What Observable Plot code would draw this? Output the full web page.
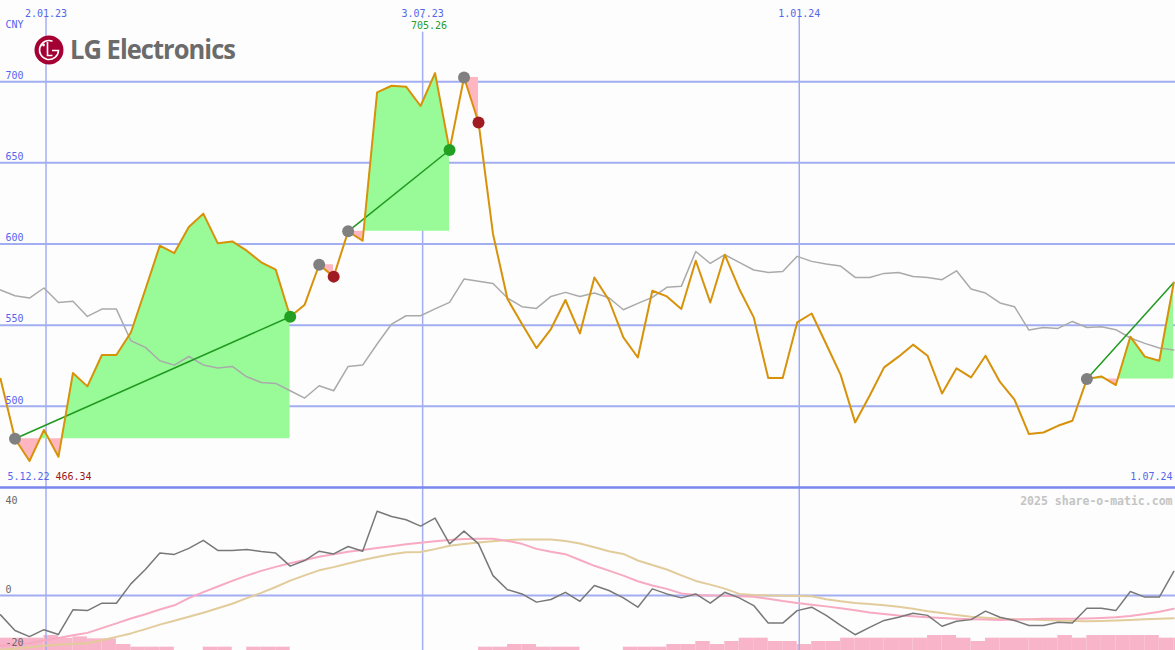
<!DOCTYPE html>
<html><head><meta charset="utf-8">
<script src="https://cdn.jsdelivr.net/npm/d3@7"></script>
<script src="https://cdn.jsdelivr.net/npm/@observablehq/plot@0.6"></script>
<style>
html,body{margin:0;padding:0;background:#fcfdfc;}
#wrap{position:relative;width:1175px;height:650px;overflow:hidden;background:#fcfdfc;}
#wrap svg{position:absolute;left:0;}
</style></head><body><div id="wrap"></div>
<script>
// ---- data (weekly, first week 11.12.2022) ----
const firstWeek = "2022-12-11";
const price = [517.0,480.0,466.34,485.4,468.9,520.5,512.3,531.6,531.6,545.5,572.0,599.0,594.4,610.5,618.7,600.4,601.6,595.9,588.7,584.2,
555.2,562.6,587.2,579.9,607.8,602.0,693.4,697.5,696.9,685.0,705.26,657.9,702.6,674.9,606.2,566.1,550.7,535.9,547.6,565.5,
544.9,579.4,565.5,542.5,530.1,571.2,567.7,560.0,589.7,564.0,593.4,572.3,554.8,517.4,517.4,551.7,557.2,538.4,519.4,490.1,
506.5,524.0,530.6,538.0,531.2,507.9,523.4,517.8,531.2,515.0,504.2,482.9,483.9,488.0,491.1,516.8,518.4,513.1,542.9,530.6,
528.1,576.3];
const bench = [571.7,568.1,566.7,572.9,564.0,564.7,555.4,559.9,559.9,540.4,536.3,528.1,525.4,530.7,525.5,523.6,524.6,518.2,514.7,514.1,
509.6,505.1,512.7,509.6,524.6,525.4,538.4,550.7,555.8,555.8,560.0,564.0,578.4,577.0,575.7,566.7,561.4,560.3,567.7,570.2,
567.7,569.8,566.9,559.5,563.4,567.1,573.3,573.9,595.4,588.0,593.4,588.7,584.0,582.5,583.1,592.4,589.3,587.7,586.4,579.4,
579.4,581.9,582.5,580.0,579.4,578.0,583.5,572.3,569.8,563.7,561.4,547.0,548.6,548.0,552.3,548.6,549.0,547.2,542.1,538.8,
535.9,534.7];
const momentum = [-7.3,-13.2,-15.5,-12.9,-14.7,-5.4,-5.7,-2.9,-2.9,4.4,9.8,16.0,15.5,17.8,20.8,17.0,17.0,17.4,16.6,16.0,
11.1,13.2,16.7,15.7,18.5,16.7,31.8,29.8,28.6,26.2,29.2,19.5,24.3,19.5,7.5,2.2,0.6,-2.5,-1.5,1.2,
-2.2,3.8,1.9,-0.9,-4.4,2.5,0.6,-0.9,0.6,-2.9,1.2,-0.9,-3.8,-10.4,-10.4,-5.7,-4.4,-7.5,-11.3,-14.8,
-12.0,-9.4,-8.2,-6.7,-7.5,-11.6,-9.7,-9.1,-5.9,-8.2,-9.4,-11.3,-11.3,-10.1,-10.4,-4.8,-4.8,-5.7,1.5,-0.6,
-0.6,9.1];
const momFast = [-19.0,-18.5,-18.0,-17.0,-16.0,-15.0,-14.1,-12.3,-10.5,-8.7,-7.1,-5.3,-3.7,-1.0,1.3,3.4,5.5,7.5,9.3,10.8,
12.2,13.4,14.6,15.6,16.5,17.2,17.9,18.6,19.3,19.9,20.5,20.9,21.3,21.4,21.4,20.6,19.5,17.6,16.5,15.6,
13.4,11.2,9.4,7.5,5.4,3.8,2.5,0.8,0.2,0.0,-0.1,-0.3,-0.5,-1.2,-2.1,-2.8,-3.5,-4.1,-4.8,-5.6,
-6.4,-7.0,-7.5,-7.8,-8.2,-8.5,-8.8,-9.0,-9.1,-9.2,-9.1,-9.0,-8.8,-8.8,-8.8,-8.7,-8.5,-8.2,-7.7,-7.0,
-6.1,-5.0];
const momSlow = [-20.5,-20.0,-19.5,-19.0,-18.5,-18.3,-18.0,-16.9,-15.6,-14.3,-12.7,-11.0,-9.5,-8.0,-6.5,-4.8,-3.1,-1.0,1.0,3.2,
5.6,7.6,9.5,10.7,12.1,13.4,14.5,15.6,16.3,16.4,17.5,18.8,19.4,20.0,20.5,20.9,21.1,21.1,21.1,20.6,
19.6,18.2,16.7,15.7,13.2,11.5,9.8,7.6,5.5,4.1,2.6,0.6,0.2,0.0,-0.1,-0.2,-0.3,-1.4,-2.2,-2.8,
-3.2,-3.7,-4.2,-5.0,-5.9,-6.6,-7.4,-8.0,-8.4,-8.8,-9.0,-9.1,-9.2,-9.4,-9.6,-9.7,-9.6,-9.4,-9.2,-9.0,
-8.8,-8.6];
const volume = [3.7,3.7,3.7,4.5,3.7,4.1,3.5,3.5,1.8,1.0,1.0,1.0,0,0,1.0,1.0,0,1.0,1.0,1.0,
0,0,0,0,0,0,0,0,0,0,0,0,0,1.0,1.0,1.8,1.8,1.0,1.0,1.0,
0,0,0,1.0,1.0,1.0,1.8,1.8,2.7,1.8,2.7,3.7,3.7,2.7,2.7,1.8,2.7,2.7,3.7,3.7,
3.7,3.7,3.7,3.7,4.5,4.5,3.7,2.7,3.7,3.7,3.7,3.7,3.7,4.5,3.7,4.5,4.5,4.5,4.5,4.5,
3.7,3.7];
const priceTicks = [500, 550, 600, 650, 700];
const gridDates = ["2023-01-02", "2023-07-03", "2024-01-01"];
const gridLabels = ["2.01.23", "3.07.23", "1.01.24"];
const entryWeek = [1, 22, 24, 32, 75];
const exitWeek = [20, 23, 31, 33, 81];
const exitClosed = [true, true, true, true, false];
const startLabel = "5.12.22";
const endLabel = "1.07.24";
const unitLabel = "CNY";

// ---- derived ----
const t0 = new Date(firstWeek + "T00:00:00Z");
const dates = price.map((_, i) => new Date(t0.getTime() + i * 7 * 864e5));
const gDates = gridDates.map(d => new Date(d + "T00:00:00Z"));
const rows = price.map((p, i) => ({date: dates[i], price: p, bench: bench[i], mom: momentum[i], fast: momFast[i], slow: momSlow[i]}));
const trades = entryWeek.map((e, j) => ({e, x: exitWeek[j], closed: exitClosed[j], base: price[e], end: price[exitWeek[j]]}));
const xScale = {type: "utc", domain: [dates[0], dates[dates.length - 1]], range: [0, 1173.3], axis: null};
const FONT = "DejaVu Sans Mono";
const BLUE = "#5566ee";
const GRID = "#a3aef2";
const BG = "#fcfdfc";
const GREEN = "#98fb98", PINK = "#ffb6c1";

function tradeFill(t) {
  const seg = rows.slice(t.e, t.x + 1).map(r => ({...r, base: t.base}));
  if (typeof Plot.differenceY === "function") {
    return [Plot.differenceY(seg, {x: "date", y1: "base", y2: "price", positiveFill: GREEN, negativeFill: PINK,
      fillOpacity: 1, positiveFillOpacity: 1, negativeFillOpacity: 1, stroke: "none", strokeOpacity: 0})];
  }
  return [
    Plot.areaY(seg, {x: "date", y1: "base", y2: d => Math.max(d.price, d.base), fill: GREEN}),
    Plot.areaY(seg, {x: "date", y1: "base", y2: d => Math.min(d.price, d.base), fill: PINK})
  ];
}

const iMax = d3.maxIndex(price), iMin = d3.minIndex(price);
const wins = trades.filter(t => t.end > t.base);
const entries = trades.map(t => rows[t.e]);
const exitsWin = trades.filter(t => t.closed && t.end > t.base).map(t => rows[t.x]);
const exitsLoss = trades.filter(t => t.closed && t.end <= t.base).map(t => rows[t.x]);

const topPlot = Plot.plot({
  width: 1175, height: 490, marginTop: 0, marginBottom: 3, marginLeft: 0, marginRight: 0,
  style: {background: "transparent", overflow: "visible"},
  x: xScale,
  y: {domain: [450, 750], axis: null},
  marks: [
    Plot.ruleY(priceTicks, {stroke: GRID, strokeWidth: 2}),
    Plot.ruleX(gDates, {stroke: GRID, strokeWidth: 1.5, insetTop: 16}),
    ...trades.flatMap(tradeFill),
    Plot.ruleY([450], {stroke: "#7a87ee", strokeWidth: 2.5}),
    Plot.line(rows, {x: "date", y: "bench", stroke: "#aaaaaa", strokeWidth: 1.5}),
    Plot.link(wins, {x1: t => dates[t.e], y1: "base", x2: t => dates[t.x], y2: "end", stroke: "#1f9a1f", strokeWidth: 1.5}),
    Plot.line(rows, {x: "date", y: "price", stroke: "#d8920a", strokeWidth: 2}),
    Plot.dot(entries, {x: "date", y: "price", r: 6, fill: "#808080"}),
    Plot.dot(exitsWin, {x: "date", y: "price", r: 6, fill: "#22a022"}),
    Plot.dot(exitsLoss, {x: "date", y: "price", r: 6, fill: "#a01c20"}),
    Plot.text(priceTicks, {y: d => d, text: d => String(d), frameAnchor: "left", dx: 5, dy: -6, textAnchor: "start", fill: BLUE, fontSize: 10, fontFamily: FONT}),
    Plot.text([unitLabel], {frameAnchor: "top-left", dx: 5, dy: 20, textAnchor: "start", fill: BLUE, fontSize: 10, fontFamily: FONT}),
    Plot.text(gDates, {x: d => d, text: (d, i) => gridLabels[i], frameAnchor: "top", dy: 9, fill: BLUE, fontSize: 10, fontFamily: FONT}),
    Plot.text([rows[iMax]], {x: "date", text: d => d.price.toFixed(2), frameAnchor: "top", dy: 21, dx: -6, fill: "#2a9a2a", stroke: BG, strokeWidth: 6, paintOrder: "stroke", fontSize: 10, fontFamily: FONT}),
    Plot.text([startLabel], {frameAnchor: "bottom-left", dx: 7, dy: -8, textAnchor: "start", fill: BLUE, fontSize: 10, fontFamily: FONT}),
    Plot.text([rows[iMin]], {text: d => d.price.toFixed(2), frameAnchor: "bottom-left", dx: 55, dy: -8, textAnchor: "start", fill: "#a01818", fontSize: 10, fontFamily: FONT}),
    Plot.text([endLabel], {frameAnchor: "bottom-right", dx: -3, dy: -8, textAnchor: "end", fill: BLUE, fontSize: 10, fontFamily: FONT})
  ]
});

const volRows = volume.map((v, i) => ({x1: dates[i], x2: new Date(dates[i].getTime() + 7 * 864e5), v}));
const volPlot = Plot.plot({
  width: 1175, height: 163, margin: 0,
  style: {background: "transparent", overflow: "visible"},
  x: xScale,
  y: {domain: [0, 49], axis: null},
  marks: [
    Plot.rectY(volRows, {x1: "x1", x2: "x2", y: "v", fill: "#f8b4c8"})
  ]
});

const lowPlot = Plot.plot({
  width: 1175, height: 163, margin: 0,
  style: {background: "transparent", overflow: "visible"},
  x: xScale,
  y: {domain: [-20.75, 40.75], axis: null},
  marks: [
    Plot.ruleY([0], {stroke: GRID, strokeWidth: 2}),
    Plot.ruleX(gDates, {stroke: GRID, strokeWidth: 1.5}),
    Plot.line(rows, {x: "date", y: "slow", stroke: "#e2cc9c", strokeWidth: 2}),
    Plot.line(rows, {x: "date", y: "fast", stroke: "#f7aac2", strokeWidth: 2}),
    Plot.line(rows, {x: "date", y: "mom", stroke: "#787878", strokeWidth: 1.5}),
    Plot.text([40], {text: d => String(d), frameAnchor: "top-left", dx: 5, dy: 9, textAnchor: "start", fill: "#666", fontSize: 10, fontFamily: FONT}),
    Plot.text([0, -20], {y: d => d, text: d => String(d), frameAnchor: "left", dx: 5, dy: -6, textAnchor: "start", fill: "#666", fontSize: 10, fontFamily: FONT}),
    Plot.text(["2025 share-o-matic.com"], {frameAnchor: "top-right", dx: -3, dy: 9, textAnchor: "end", fill: "#c4c4c4", fontSize: 11.5, fontFamily: FONT, fontWeight: "bold"})
  ]
});

const wrap = document.getElementById("wrap");
volPlot.style.top = "487px";
lowPlot.style.top = "487px";
topPlot.style.top = "0px";
wrap.appendChild(volPlot);
wrap.appendChild(lowPlot);
wrap.appendChild(topPlot);

// logo
const ns = "http://www.w3.org/2000/svg";
const logo = document.createElementNS(ns, "svg");
logo.setAttribute("width", "260"); logo.setAttribute("height", "80");
logo.style.top = "0px";
logo.innerHTML = `
  <circle cx="49" cy="50" r="14.5" fill="#a50034"/>
  <path d="M 52.5 41.2 A 9.5 9.5 0 1 0 58.5 50.5 L 52 50.5" fill="none" stroke="#fff" stroke-width="1.6"/>
  <path d="M 47.5 42 L 47.5 55.5 L 52.5 55.5" fill="none" stroke="#fff" stroke-width="1.6"/>
  <circle cx="43.5" cy="45" r="1.4" fill="#fff"/>
  <text x="70" y="59" font-family="Open Sans" font-weight="700" font-size="26.5" letter-spacing="-1" fill="#6b6b6b" textLength="165" lengthAdjust="spacingAndGlyphs">LG Electronics</text>`;
wrap.appendChild(logo);
</script>
</body></html>
